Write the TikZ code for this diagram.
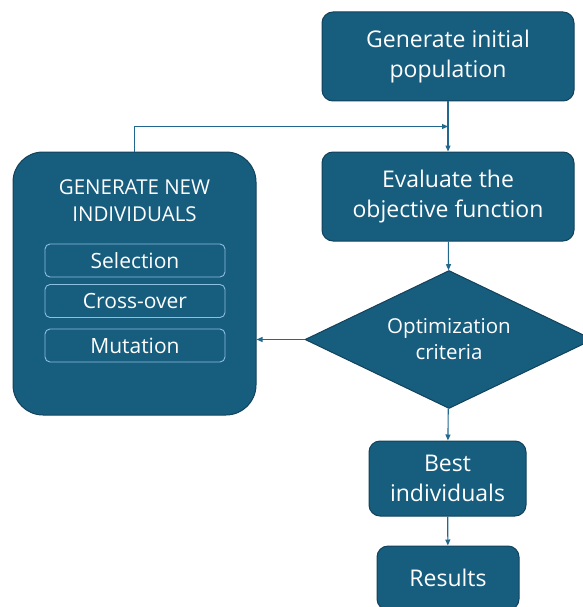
\documentclass[tikz,border=0pt]{standalone}
\usepackage{fontspec}
\setmainfont{Open Sans}
\usetikzlibrary{shapes.geometric,arrows.meta}
\definecolor{boxfill}{RGB}{23,93,126}
\definecolor{boxedge}{RGB}{18,66,92}
\definecolor{linecol}{RGB}{34,104,142}
\definecolor{subedge}{RGB}{140,192,222}
\tikzset{
  x=1pt,y=1pt,
  stepbox/.style={draw=boxedge,line width=1pt,fill=boxfill,rounded corners=11pt,text=white,align=center,inner sep=0pt,font=\fontsize{23}{29.5}\selectfont},
  subbox/.style={draw=subedge,line width=0.9pt,fill=boxfill,rounded corners=5pt,text=white,minimum width=180pt,minimum height=33pt,inner sep=0pt,font=\fontsize{21}{22}\selectfont},
  decision/.style={diamond,aspect=2.09,draw=boxedge,line width=1pt,fill=boxfill,text=white,align=center,inner sep=0pt,font=\fontsize{20.5}{26}\selectfont},
  conn/.style={draw=linecol,line width=1.1pt,-{Triangle[length=6pt,width=5pt]}},
}
\begin{document}
\begin{tikzpicture}
\useasboundingbox (0,0) rectangle (582,-607);
\node[stepbox,minimum width=252pt,minimum height=89pt] (init) at (448,-56.5) {Generate initial\\population};
\node[stepbox,minimum width=252pt,minimum height=89pt] (eval) at (448,-196.5) {Evaluate the\\objective function};
\node[decision,minimum width=288pt,minimum height=138pt] (crit) at (449,-339.5) {Optimization\\criteria};
\node[stepbox,minimum width=157pt,minimum height=75pt] (best) at (447.5,-478.5) {Best\\individuals};
\node[stepbox,minimum width=142pt,minimum height=64pt] (res) at (448,-578) {Results};
\node[stepbox,rounded corners=30pt,minimum width=243pt,minimum height=263pt] (gen) at (134.5,-283.5) {};
\node[text=white,align=center,font=\fontsize{20.5}{27}\selectfont] (gtitle) at (134.5,-201) {GENERATE NEW\\INDIVIDUALS};
\node[subbox] (sel) at (135,-260.5) {Selection};
\node[subbox] (cross) at (135,-301) {Cross-over};
\node[subbox] (mut) at (135,-345.5) {Mutation};
\coordinate (join) at (448,-126.5);
\draw[conn] (init) -- (eval);
\draw[conn] (eval) -- (crit);
\draw[conn] (crit) -- (best);
\draw[conn] (best) -- (res);
\draw[conn] (crit.west) -- (gen.east |- crit.west);
\draw[conn] (gen.north) |- (join);
\end{tikzpicture}
\end{document}
